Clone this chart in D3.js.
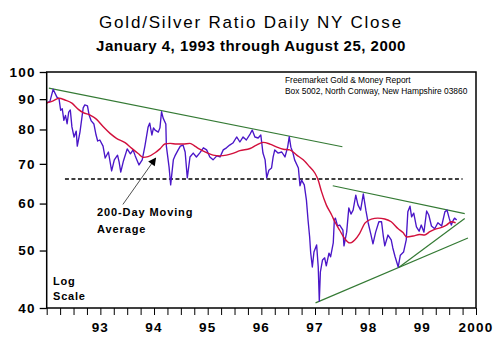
<!DOCTYPE html>
<html><head><meta charset="utf-8">
<script src="https://cdn.jsdelivr.net/npm/d3@7"></script>
<style>
body{margin:0;background:#fff;}
text{font-family:"Liberation Sans",Arial,sans-serif;}
</style></head>
<body><svg id="c" width="498" height="359"></svg>
<script>
// ---- data (decimal year, ratio) ----
const ratioDates = [1993.00,1993.06,1993.12,1993.19,1993.23,1993.26,1993.29,1993.32,1993.35,1993.38,1993.41,1993.44,1993.47,1993.51,1993.55,1993.57,1993.62,1993.68,1993.71,1993.76,1993.79,1993.83,1993.88,1993.92,1993.95,1993.99,
1994.05,1994.09,1994.15,1994.21,1994.26,1994.32,1994.35,1994.38,1994.43,1994.50,1994.56,1994.61,1994.65,1994.72,1994.78,1994.83,1994.89,1994.92,1994.96,1994.99,
1995.02,1995.08,1995.11,1995.14,1995.17,1995.22,1995.23,1995.28,1995.31,1995.36,1995.39,1995.45,1995.49,1995.54,1995.58,1995.62,1995.67,1995.73,1995.79,1995.85,1995.92,1995.98,
1996.04,1996.10,1996.17,1996.23,1996.29,1996.35,1996.41,1996.47,1996.54,1996.60,1996.66,1996.72,1996.79,1996.83,1996.88,1996.94,1996.99,
1997.03,1997.07,1997.10,1997.14,1997.19,1997.22,1997.25,1997.31,1997.38,1997.44,1997.49,1997.52,1997.55,1997.59,1997.62,1997.69,1997.72,1997.75,1997.80,1997.84,1997.87,1997.90,1997.92,1997.95,1997.98,
1998.03,1998.06,1998.08,1998.10,1998.14,1998.18,1998.21,1998.26,1998.29,1998.34,1998.36,1998.38,1998.42,1998.46,1998.52,1998.54,1998.59,1998.63,1998.67,1998.71,1998.76,1998.80,1998.85,1998.90,1998.95,1998.99,
1999.04,1999.08,1999.13,1999.19,1999.24,1999.27,1999.30,1999.36,1999.42,1999.45,1999.49,1999.55,1999.59,1999.65,1999.70,1999.73,1999.77,1999.80,1999.84,1999.89,1999.94,1999.98,
2000.03,2000.08,2000.12,2000.17,2000.23,2000.29,2000.36,2000.42,2000.46,2000.50,2000.54,2000.57,2000.60,2000.64];
const ratioValues = [88.7,89.2,93.5,90.7,90.1,86.2,86.7,82.9,84.5,81.8,85.6,86.3,80.8,77.7,79.5,75.0,79.2,87.0,88.0,87.7,84.6,82.7,81.7,78.3,76.5,76.8,
75.0,71.6,73.3,68.1,71.1,72.4,70.5,67.8,70.8,74.2,72.8,73.9,72.2,69.7,71.1,75.0,80.8,82.0,78.3,80.5,
79.8,79.2,80.5,85.7,83.6,81.7,75.0,69.2,64.5,71.1,72.2,73.9,75.0,75.3,73.3,66.3,71.9,73.0,71.9,73.0,74.5,73.9,
71.9,71.1,72.2,71.9,73.9,74.5,75.3,75.9,77.7,76.2,77.7,76.8,78.6,79.8,77.7,77.4,78.3,
73.0,71.1,66.3,68.3,68.9,71.9,73.9,73.0,73.3,71.9,74.7,77.8,74.7,73.0,71.1,68.9,64.3,65.7,64.5,60.8,56.3,52.7,49.5,46.9,49.7,
51.1,46.9,41.1,46.0,48.2,48.6,47.1,49.5,48.8,51.5,56.3,56.7,55.0,55.2,54.1,50.9,53.7,59.0,57.6,58.5,62.0,59.7,58.5,62.3,58.3,55.7,
53.3,51.3,53.7,55.9,55.9,53.1,50.9,53.1,52.1,50.5,48.9,46.9,49.1,49.7,52.1,58.1,59.4,57.0,57.8,54.8,53.9,55.2,
53.7,58.3,57.4,55.0,54.4,55.7,55.0,58.1,58.5,56.7,55.2,56.1,56.7,56.3];

// 200-day moving average
const maDates = [1993.00,1993.12,1993.23,1993.34,1993.47,1993.59,1993.68,1993.81,1993.93,1994.05,1994.18,1994.30,1994.46,1994.58,1994.71,1994.80,1994.89,
1995.02,1995.11,1995.20,1995.30,1995.42,1995.54,1995.67,1995.76,1995.85,1995.98,1996.10,1996.23,1996.35,1996.47,1996.60,1996.79,1996.91,
1997.03,1997.16,1997.28,1997.41,1997.53,1997.66,1997.78,1997.90,1998.00,1998.06,1998.12,1998.21,1998.31,1998.37,1998.46,1998.55,1998.65,1998.74,1998.83,1998.93,
1999.05,1999.17,1999.30,1999.42,1999.55,1999.64,1999.71,1999.83,1999.95,2000.04,2000.14,2000.23,2000.36,2000.45,2000.54,2000.62];
const maValues = [88.7,89.4,90.3,89.7,88.6,86.5,85.4,84.6,83.2,80.9,78.8,77.3,76.0,74.4,72.8,71.8,72.0,
73.1,74.2,75.6,75.8,75.6,75.6,75.8,75.0,74.1,73.1,72.4,72.2,72.4,72.9,73.7,74.3,75.3,
76.1,75.6,74.8,74.1,73.9,72.4,71.1,69.2,67.5,65.7,62.9,59.7,57.4,55.9,54.1,52.4,51.5,52.1,53.4,55.6,
56.5,56.7,56.5,55.9,54.4,53.6,52.7,52.9,53.2,53.1,53.8,54.3,54.7,55.2,55.9,55.7];

// trend lines: [startYear, startValue, endYear, endValue]
const trendStart = [[1993.04,93.9],[1998.33,64.3],[1998.01,40.8],[1999.56,46.8]];
const trendEnd   = [[1998.51,74.8],[2000.79,57.7],[2000.85,52.5],[2000.79,56.6]];

const dashedLevel = 66;
const dashedSpan = [1993.34, 2000.75];
const arrowFrom = [1994.42, 59.8];
const arrowTo = [1995.03, 71.6];

const yTicks = [40,50,60,70,80,90,100];
const xLabelYears = [1994,1995,1996,1997,1998,1999,2000,2001];
const xLabels = ["93","94","95","96","97","98","99","2000"];

// ---- drawing ----
const svg = d3.select("#c");
const L=46.7, R=476, T=72, B=308;
const x = d3.scaleLinear().domain([1993,2001]).range([L,R]);
const y = d3.scaleLog().domain([40,100]).range([B,T]);

// titles
svg.append("text").attr("x",251).attr("y",28).attr("text-anchor","middle")
  .style("font-size","17px").style("letter-spacing","1.8px").text("Gold/Silver Ratio Daily NY Close");
svg.append("text").attr("x",251).attr("y",51).attr("text-anchor","middle")
  .style("font-size","15px").style("font-weight","bold").style("letter-spacing","0.5px")
  .text("January 4, 1993 through August 25, 2000");

// dashed level
svg.append("line").attr("x1",x(dashedSpan[0])).attr("x2",x(dashedSpan[1]))
  .attr("y1",y(dashedLevel)).attr("y2",y(dashedLevel))
  .attr("stroke","#000").attr("stroke-width",1.3).attr("stroke-dasharray","4,2.5");

// trend lines
svg.append("g").selectAll("line").data(d3.range(trendStart.length)).join("line")
  .attr("x1",i=>x(trendStart[i][0])).attr("y1",i=>y(trendStart[i][1]))
  .attr("x2",i=>x(trendEnd[i][0])).attr("y2",i=>y(trendEnd[i][1]))
  .attr("stroke","#347a34").attr("stroke-width",1.2);

const line = d3.line().x(d=>x(d[0])).y(d=>y(d[1]));
svg.append("path").datum(ratioDates.map((d,i)=>[d,ratioValues[i]]))
  .attr("d",line).attr("fill","none").attr("stroke","#4a16c8").attr("stroke-width",1.35)
  .attr("stroke-linejoin","round");
svg.append("path").datum(maDates.map((d,i)=>[d,maValues[i]]))
  .attr("d",d3.line().curve(d3.curveMonotoneX).x(d=>x(d[0])).y(d=>y(d[1])))
  .attr("fill","none").attr("stroke","#d2103c").attr("stroke-width",1.4);

// frame
svg.append("rect").attr("x",L).attr("y",T).attr("width",R-L).attr("height",B-T)
  .attr("fill","none").attr("stroke","#000").attr("stroke-width",1.5);

// axes
const ya = svg.append("g").attr("transform",`translate(${L},0)`)
  .call(d3.axisLeft(y).tickValues(yTicks).tickSize(7).tickPadding(4).tickFormat(d3.format("d")));
ya.select(".domain").remove();
ya.selectAll("line").attr("stroke","#000").attr("stroke-width",1.3);
ya.selectAll("text").style("font-size","13.5px").style("font-weight","bold")
  .style("letter-spacing","1.2px").attr("fill","#000").style("font-family","'Liberation Sans',Arial,sans-serif");

const xa = svg.append("g").attr("transform",`translate(0,${B})`)
  .call(d3.axisBottom(x).tickValues(d3.range(1993,2001.01,0.25)).tickSize(7).tickFormat(""));
xa.select(".domain").remove();
xa.selectAll("line").attr("stroke","#000").attr("stroke-width",1);
svg.append("g").selectAll("text").data(xLabelYears).join("text")
  .attr("x",d=>x(d)).attr("y",332).attr("text-anchor","middle")
  .style("font-size","13.5px").style("font-weight","bold").style("letter-spacing","1.2px")
  .text((d,i)=>xLabels[i]);

// source
svg.append("text").attr("x",285).attr("y",83).style("font-size","8.4px").text("Freemarket Gold & Money Report");
svg.append("text").attr("x",285).attr("y",94).style("font-size","8.4px").text("Box 5002, North Conway, New Hampshire 03860");

// annotation
const defs = svg.append("defs");
defs.append("marker").attr("id","ah").attr("viewBox","0 0 10 10").attr("refX",9).attr("refY",5)
  .attr("markerWidth",10).attr("markerHeight",8).attr("markerUnits","userSpaceOnUse").attr("orient","auto")
  .append("path").attr("d","M0,0L10,5L0,10Z").attr("fill","#000");
svg.append("line").attr("x1",x(arrowFrom[0])).attr("y1",y(arrowFrom[1]))
  .attr("x2",x(arrowTo[0])).attr("y2",y(arrowTo[1]))
  .attr("stroke","#222").attr("stroke-width",0.8).attr("marker-end","url(#ah)");
svg.append("text").attr("x",97).attr("y",216).style("font-size","11px").style("font-weight","bold")
  .style("letter-spacing","0.9px").text("200-Day Moving");
svg.append("text").attr("x",97).attr("y",233).style("font-size","11px").style("font-weight","bold")
  .style("letter-spacing","0.9px").text("Average");
svg.append("text").attr("x",53).attr("y",285).style("font-size","11px").style("font-weight","bold")
  .style("letter-spacing","0.8px").text("Log");
svg.append("text").attr("x",53).attr("y",300).style("font-size","11px").style("font-weight","bold")
  .style("letter-spacing","0.8px").text("Scale");
</script></body></html>
